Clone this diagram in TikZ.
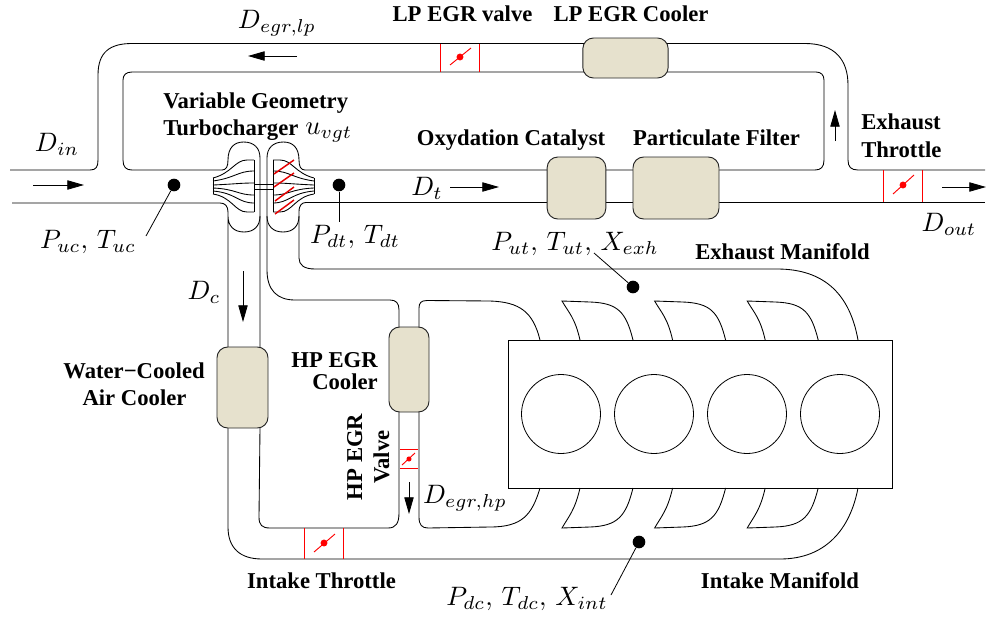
\documentclass[tikz,border=0pt]{standalone}
\usepackage{fontspec}
\setmainfont{Liberation Serif}
\usetikzlibrary{arrows.meta}
\definecolor{beige}{HTML}{E6E1CD}
\newcommand{\ml}[1]{\scalebox{2}{\fontsize{10}{12}\selectfont$#1$}}
\newcommand{\bl}{\fontsize{17}{20}\selectfont\bfseries}
\tikzset{
 pipe/.style={line width=0.65pt,black},
 cooler/.style={draw=black!85,line width=0.7pt,fill=beige,inner sep=0pt,rounded corners=8pt},
 redl/.style={red,line width=0.7pt},
 flow/.style={line width=0.6pt,-{Triangle[length=12.5pt,width=7pt]}},
 probe/.style={circle,fill=black,inner sep=0pt,minimum size=9.5pt},
 lead/.style={line width=0.6pt},
 blade/.style={line width=0.65pt},
 lab/.style={anchor=base,inner sep=0pt,align=center},
 mlab/.style={anchor=base,inner sep=0pt},
}
\newcommand{\turbohalf}{%
 \draw[blade] (213,178)--(213,194) (254,160)--(254,212);
 \draw[blade] (213,178) .. controls (232,173) and (235,160) .. (247,160) -- (254,160);
 \draw[blade] (213,181) .. controls (235,178) and (238,171) .. (254,171);
 \draw[blade] (213,185) .. controls (236,184) and (240,183) .. (254,183);
 \draw[blade] (213,188) .. controls (236,189) and (238,195) .. (254,195);
 \draw[blade] (213,191) .. controls (236,193) and (238,203) .. (254,203);
 \draw[blade] (213,194) .. controls (232,197) and (235,212) .. (247,212) -- (254,212);
}
\begin{document}
\begin{tikzpicture}[x=0.75pt,y=-0.75pt]
\useasboundingbox (0,0) rectangle (986,618);
% LP loop and main line
\draw[pipe] (10,170) -- (90,170) .. controls (96,170) and (98,167) .. (98,160) -- (98,75)
  .. controls (98,52) and (110,43.5) .. (132,43.5) -- (805,43.5)
  .. controls (835,43.5) and (848,60) .. (848,85) -- (848,160)
  .. controls (848,167) and (851,170) .. (858,170) -- (985,170);
\draw[pipe] (222,170) -- (132,170) .. controls (126,170) and (123,167) .. (123,160) -- (123,80)
  .. controls (123,75) and (126,72) .. (132,72) -- (816,72)
  .. controls (821,72) and (824,75) .. (824,80) -- (824,160)
  .. controls (824,167) and (821,170) .. (815,170) -- (305,170);
\draw[pipe] (12,203) -- (220,203) .. controls (225,203) and (228,206) .. (228,212);
\draw[pipe] (306,202.5) -- (985,202.5);
% compressor housing
\draw[pipe] (222,170) .. controls (226,170) and (228,167) .. (228,160)
  .. controls (228,148) and (234,142) .. (243.5,142) .. controls (254,142) and (260,148) .. (260,158) -- (260,347);
\draw[pipe] (228,347) -- (228,212) -- (228,216)
  .. controls (228,226) and (234,232) .. (244,232) .. controls (254,232) and (260,226) .. (260,216);
% turbine housing
\draw[pipe] (305,170) .. controls (301,170) and (299,167) .. (299,160)
  .. controls (299,148) and (293,142) .. (283.5,142) .. controls (273,142) and (267,148) .. (267,158)
  -- (267,270) .. controls (267,290) and (277,300) .. (295,300) -- (390,300)
  .. controls (396,300) and (399,303) .. (399,310) -- (399,327);
\draw[pipe] (306,202.5) .. controls (302,202.5) and (299,205) .. (299,212) -- (299,258)
  .. controls (299,265) and (304,269) .. (315,269) -- (777,269)
  .. controls (825,269) and (850,295) .. (858,340);
\draw[pipe] (299,216) .. controls (299,226) and (293,232) .. (283,232) .. controls (273,232) and (267,226) .. (267,216);
% HP branch top
\draw[pipe] (419,327) -- (419,308) .. controls (419,303) and (421,300.5) .. (427,300.5) -- (490,301)
  .. controls (520,302) and (533,312) .. (540,340);
% HP branch bottom and intake
\draw[pipe] (399,412) -- (399,513) .. controls (399,523) and (396,528) .. (388,528) -- (270,528)
  .. controls (262,528) and (259,525) .. (259,517) -- (260,428);
\draw[pipe] (419,412) -- (419,517) .. controls (419,525) and (422,528) .. (428,528) -- (490,527)
  .. controls (522,527) and (532,515) .. (540,488);
\draw[pipe] (228,428) -- (228,527) .. controls (228,548) and (240,559) .. (262,559) -- (780,559)
  .. controls (825,559) and (850,530) .. (858,488);
% engine
\node[draw=black,line width=0.65pt,inner sep=0pt,minimum width=288pt,minimum height=111pt] (engine) at (700,414) {};
\foreach \c/\n in {561/a,654/b,747/c,840/d}{
  \node[draw,circle,line width=0.6pt,inner sep=0pt,minimum size=59.25pt] (cyl\n) at (\c,414) {};
}
% runners
\foreach \d in {0,92.6,185.2}{
  \draw[pipe] (580+\d,340) .. controls (575+\d,318) and (569+\d,313) .. (562+\d,301)
     -- (590+\d,302) .. controls (618+\d,303) and (626+\d,312) .. (633+\d,340);
  \draw[pipe] (580+\d,488) .. controls (575+\d,510) and (569+\d,516) .. (562+\d,528)
     -- (590+\d,527) .. controls (618+\d,526) and (626+\d,516) .. (633+\d,488);
}
% turbo internals
\turbohalf
\begin{scope}[shift={(527,0)},xscale=-1]
\turbohalf
\end{scope}
\draw[blade] (254,184) rectangle (273,189);
\foreach \a/\b/\c/\d in {274/174/294/160,274/187/294/173,275/201/294/187,275/214/294/200}{
  \draw[red!90!black,line width=1.1pt] (\a,\b) -- (\c,\d);
}
% components
\node[cooler,minimum width=64pt,minimum height=30pt] (lpc) at (625.5,58) {};
\node[cooler,minimum width=44pt,minimum height=46.5pt] (cat) at (576.5,188) {};
\node[cooler,minimum width=64.5pt,minimum height=46.5pt] (dpf) at (676,188) {};
\node[cooler,minimum width=38.25pt,minimum height=60.75pt] (wcac) at (242.5,387.5) {};
\node[cooler,minimum width=30pt,minimum height=63.75pt] (hpc) at (409,369.5) {};
% valves
\draw[redl] (440,43.5)--(440,72) (479,43.5)--(479,72);
\draw[redl] (450,65)--(471,48); \fill[red] (460,57) circle (2.6pt);
\draw[redl] (883,170)--(883,202) (922,170)--(922,202);
\draw[redl] (893,194)--(914,175); \fill[red] (903,185) circle (2.6pt);
\draw[redl] (304,528)--(304,559) (343,528)--(343,559);
\draw[redl] (314,552)--(335,534); \fill[red] (324,543) circle (2.6pt);
\draw[redl] (400,449)--(418,449) (400,468)--(418,468);
\draw[redl] (402,465)--(415,453); \fill[red] (409,459) circle (1.9pt);
% flow arrows
\draw[flow] (33,185)--(84,185);
\draw[flow] (450,187)--(499,187);
\draw[flow] (942,187)--(986,187);
\draw[flow] (297,56)--(248,56);
\draw[flow] (835,141)--(835,110);
\draw[flow] (243,271)--(243,322);
\draw[flow] (409,482)--(409,514);
% probes
\node[probe] (puc) at (174,185) {};
\node[probe] (pdt) at (339,185) {};
\node[probe] (put) at (633,287) {};
\node[probe] (pdc) at (639,542) {};
\coordinate (lpuc) at (146,236);
\coordinate (lpdt) at (339,222);
\coordinate (lput) at (594,253);
\coordinate (lpdc) at (611,595);
\draw[lead] (puc)--(lpuc);
\draw[lead] (pdt)--(lpdt);
\draw[lead] (put)--(lput);
\draw[lead] (pdc)--(lpdc);
% bold labels
\node[lab] (t1) at (462.5,21) {\bl LP EGR valve};
\node[lab] (t2) at (631,21) {\bl LP EGR Cooler};
\node[lab,anchor=base west] (t3) at (163,108) {\bl Variable Geometry};
\node[lab,anchor=base west] (t4) at (163,135) {\bl Turbocharger};
\node[mlab,anchor=base west] (t4b) at (305,134) {\scalebox{2}{\fontsize{10}{12}\selectfont$u_{vgt}$}};
\node[lab] (t5) at (511,145.5) {\bl Oxydation Catalyst};
\node[lab] (t6) at (716.5,145.5) {\bl Particulate Filter};
\node[lab,anchor=base west] (t7) at (861,129) {\bl Exhaust};
\node[lab,anchor=base west] (t8) at (861,157) {\bl Throttle};
\node[lab] (t9) at (782.5,259) {\bl Exhaust Manifold};
\node[lab,anchor=base east] (t10) at (378,367) {\bl HP EGR};
\node[lab,anchor=base east] (t11) at (378,389) {\bl Cooler};
\node[lab] (t12) at (134,378) {\bl Water−Cooled};
\node[lab] (t13) at (134.5,405.5) {\bl Air Cooler};
\node[lab,rotate=90] (t14) at (362,457) {\bl HP EGR};
\node[lab,rotate=90] (t15) at (389,457) {\bl Valve};
\node[lab] (t16) at (321.5,588) {\bl Intake Throttle};
\node[lab] (t17) at (780,588) {\bl Intake Manifold};
% math labels
\node[mlab] (m1) at (277,28) {\ml{D_{egr,lp}}};
\node[mlab] (m2) at (57,151) {\ml{D_{in}}};
\node[mlab] (m3) at (427,195) {\ml{D_t}};
\node[mlab] (m4) at (949,231) {\ml{D_{out}}};
\node[mlab] (m5) at (204,299) {\ml{D_c}};
\node[mlab] (m6) at (465,503) {\ml{D_{egr,hp}}};
\node[mlab] (m7) at (88,248) {\ml{P_{uc},\,T_{uc}}};
\node[mlab] (m8) at (355,243) {\ml{P_{dt},\,T_{dt}}};
\node[mlab] (m9) at (575,250) {\ml{P_{ut},\,T_{ut},\,X_{exh}}};
\node[mlab] (m10) at (527,605) {\ml{P_{dc},\,T_{dc},\,X_{int}}};
\end{tikzpicture}
\end{document}
